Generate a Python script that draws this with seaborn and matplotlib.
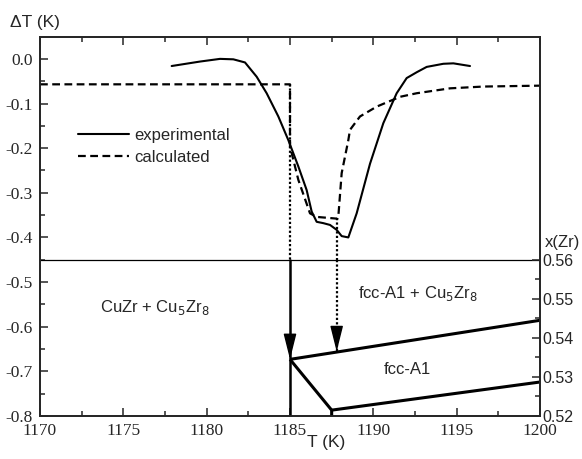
import pandas as pd
import matplotlib.pyplot as plt
import seaborn as sns
from matplotlib.ticker import MultipleLocator, FormatStrFormatter

## DSC signal (left axis, dT in K)
T_exp = [1177.9, 1179.6, 1180.8, 1181.6, 1182.3, 1183.0, 1183.6, 1184.3, 1184.9,
         1185.5, 1186.0, 1186.3, 1186.6, 1187.0, 1187.4, 1187.8, 1188.1, 1188.5,
         1189.0, 1189.8, 1190.6, 1191.4, 1192.0, 1192.6, 1193.2, 1194.2, 1194.8, 1195.8]
dT_exp = [-0.016, -0.006, 0.0, -0.001, -0.008, -0.040, -0.077, -0.129, -0.182,
          -0.241, -0.294, -0.342, -0.365, -0.368, -0.372, -0.383, -0.397, -0.400,
          -0.346, -0.235, -0.144, -0.077, -0.043, -0.030, -0.018, -0.011, -0.010, -0.016]

T_calc = [1170, 1185, 1185, 1185.1, 1185.5, 1186.2, 1186.6, 1187.85, 1187.9, 1188.1,
          1188.5, 1188.6, 1189.2, 1190.2, 1191.6, 1192.6, 1194.6, 1196.6, 1200]
dT_calc = [-0.057, -0.057, -0.20, -0.211, -0.271, -0.346, -0.354, -0.358, -0.353, -0.256,
           -0.182, -0.159, -0.129, -0.107, -0.085, -0.077, -0.066, -0.062, -0.060]

## phase diagram part (right axis, x(Zr))
T_upper = [1185, 1200]
x_upper = [0.5345, 0.5445]
T_lower = [1185, 1187.5, 1187.5]
x_lower = [0.5345, 0.5215, 0.52]
T_lower2 = [1187.5, 1200]
x_lower2 = [0.5215, 0.5287]

dT_split = -0.45          # horizontal line, = x(Zr) 0.56
T_arrows = [1185, 1187.8]
dT_arrow_start = [-0.057, -0.357]
x_arrow_tip = [0.5345, 0.5365]

sns.set_style('ticks')
plt.rcParams['font.family'] = ['Liberation Sans', 'DejaVu Sans']
plt.rcParams['axes.unicode_minus'] = False

fig = plt.figure(figsize=(5.82, 4.59), dpi=100)
ax = fig.add_axes([40 / 582, 1 - 416 / 459, 500 / 582, 379 / 459])
ax2 = ax.twinx()

df_exp = pd.DataFrame({'T': T_exp, 'dT': dT_exp})
df_calc = pd.DataFrame({'T': T_calc, 'dT': dT_calc})

sns.lineplot(data=df_exp, x='T', y='dT', ax=ax, sort=False, estimator=None,
             color='black', lw=1.5, label='experimental')
sns.lineplot(data=df_calc, x='T', y='dT', ax=ax, sort=False, estimator=None,
             color='black', lw=1.6, linestyle=(0, (3.5, 2)), label='calculated')

ax.axhline(dT_split, color='black', lw=0.9)

# dotted markers from the DSC curves down to the split line
for t, d0 in zip(T_arrows, dT_arrow_start):
    ax.plot([t, t], [d0, dT_split], color='black', lw=1.6, linestyle=(0, (1, 1)))

ax2.plot(T_upper, x_upper, color='black', lw=2.2, solid_capstyle='butt')
ax2.plot(T_lower, x_lower, color='black', lw=2.2, solid_capstyle='butt')
ax2.plot(T_lower2, x_lower2, color='black', lw=2.2, solid_capstyle='butt')
ax2.plot([T_arrows[0], T_arrows[0]], [0.56, 0.52], color='black', lw=1.8)
ax2.plot([T_arrows[1], T_arrows[1]], [0.56, x_arrow_tip[1]], color='black', lw=1.6,
         linestyle=(0, (1, 1)))
for t, tip in zip(T_arrows, x_arrow_tip):
    ax2.annotate('', xy=(t, tip), xytext=(t, tip + 0.005),
                 arrowprops=dict(arrowstyle='-|>,head_length=0.8,head_width=0.2',
                                 mutation_scale=20, color='black', lw=1,
                                 shrinkA=0, shrinkB=0))

# axes
ax.set_xlim(1170, 1200)
ax.set_ylim(-0.8, 0.049)
ax2.set_ylim(0.52, 0.52 + 0.849 * 0.04 / 0.35)
ax.xaxis.set_major_locator(MultipleLocator(5))
ax.xaxis.set_minor_locator(MultipleLocator(2.5))
ax.yaxis.set_major_locator(MultipleLocator(0.1))
ax.yaxis.set_minor_locator(MultipleLocator(0.05))
ax.yaxis.set_major_formatter(FormatStrFormatter('%.1f'))
ax2.set_yticks([0.52, 0.53, 0.54, 0.55, 0.56])
ax2.set_yticks([0.525, 0.535, 0.545, 0.555], minor=True)
ax.set_xlabel('')
ax.set_ylabel('')
ax2.set_ylabel('')

ax.tick_params(which='both', direction='in', top=True, right=False, width=1.1,
               labelfontfamily='Liberation Serif', labelsize=12.5)
ax.tick_params(which='major', length=6, pad=5)
ax.tick_params(which='minor', length=3.5)
ax2.tick_params(which='both', direction='in', width=1.1, pad=2, labelsize=11.5)
ax2.tick_params(which='major', length=6)
ax2.tick_params(which='minor', length=3.5)

for a in (ax, ax2):
    for s in a.spines.values():
        s.set_linewidth(1.3)
        s.set_visible(True)

ax.legend(loc='upper left', bbox_to_anchor=(0.045, 0.80), frameon=False,
          fontsize=12, handlelength=3.1, handletextpad=0.3, labelspacing=0.45)

fig.text(10 / 582, 1 - 22 / 459, 'ΔT (K)', fontsize=12.5, va='center', ha='left')
fig.text(545 / 582, 1 - 243 / 459, 'x(Zr)', fontsize=12, va='center', ha='left')
fig.text(326 / 582, 1 - 443 / 459, 'T (K)', fontsize=12.5, va='center', ha='center')

ax.text(1173.6, -0.558, 'CuZr + Cu$_5$Zr$_8$', fontsize=12, va='center')
ax.text(1189.1, -0.525, 'fcc-A1 + Cu$_5$Zr$_8$', fontsize=12, va='center')
ax.text(1190.6, -0.696, 'fcc-A1', fontsize=12, va='center')

fig.canvas.draw()
for lab in ax.yaxis.get_ticklabels() + ax.xaxis.get_ticklabels():
    lab.set_fontfamily('Liberation Serif')
    lab.set_fontsize(12.5)

plt.savefig('out.png', dpi=100)
